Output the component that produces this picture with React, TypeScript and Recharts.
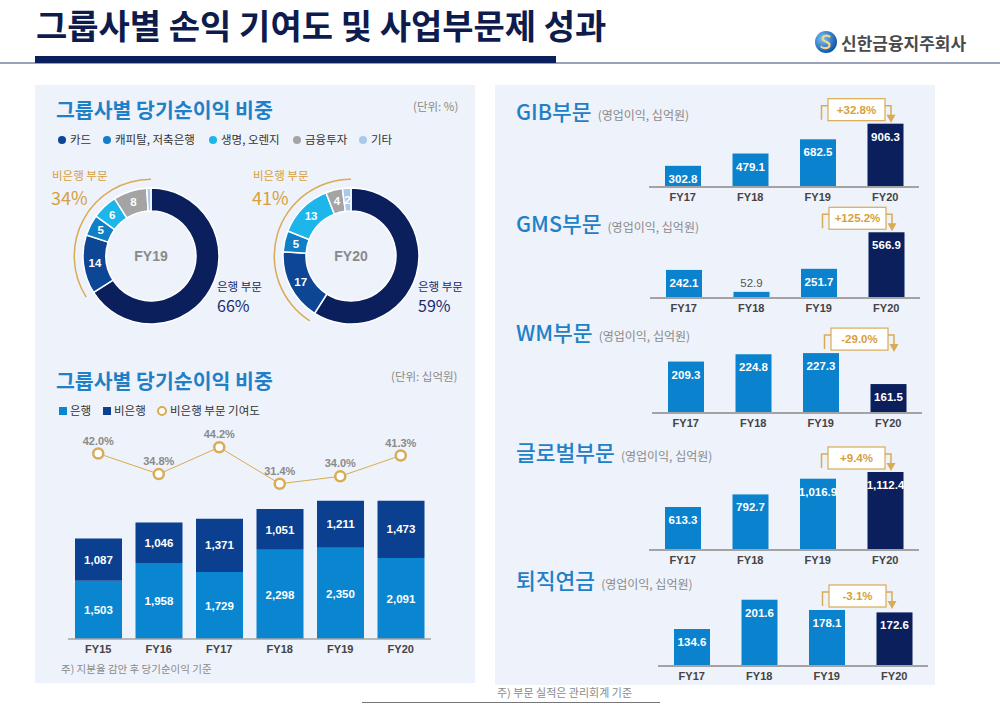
import React from 'react'
import {
	PieChart,
	Pie,
	Cell,
	ComposedChart,
	BarChart,
	Bar,
	Line,
	XAxis,
	YAxis,
	LabelList,
} from 'recharts'

const KR = '"Noto Sans CJK KR", "Noto Sans", sans-serif'
const NUM = '"Liberation Sans", Arial, sans-serif'

// 그룹사별 당기순이익 비중 (%), 은행 first then non-bank in clockwise order
const SHARE_KEYS = ['은행', '카드', '캐피탈, 저축은행', '생명, 오렌지', '금융투자', '기타']
const SHARE_FY19 = [66, 14, 5, 6, 8, 1]
const SHARE_FY20 = [59, 17, 5, 13, 4, 2]

// 그룹사별 당기순이익 (십억원)
const YEARS = ['FY15', 'FY16', 'FY17', 'FY18', 'FY19', 'FY20']
const BANK = [1503, 1958, 1729, 2298, 2350, 2091]
const NONBANK = [1087, 1046, 1371, 1051, 1211, 1473]
const NONBANK_RATIO = [42.0, 34.8, 44.2, 31.4, 34.0, 41.3]

// 사업부문 영업이익 (십억원)
const SEG_YEARS = ['FY17', 'FY18', 'FY19', 'FY20']
const GIB = [302.8, 479.1, 682.5, 906.3]
const GMS = [242.1, 52.9, 251.7, 566.9]
const WM = [209.3, 224.8, 227.3, 161.5]
const GLOBAL = [613.3, 792.7, 1016.9, 1112.4]
const PENSION = [134.6, 201.6, 178.1, 172.6]
const SEG_CHANGE = ['+32.8%', '+125.2%', '-29.0%', '+9.4%', '-3.1%']

const PANEL = '#eef2fa'
const TITLE_BLUE = '#1f80c8'
const NAVY = '#0b1f5c'
const SHARE_COLORS = [NAVY, '#0c4694', '#0f7fc8', '#1db6ea', '#a4a4a4', '#a8c8ec']
const BANK_BAR = '#0a85d0'
const NONBANK_BAR = '#0b3f8f'
const SEG_BLUE = '#0b82cd'
const GOLD = '#d9ab55'
const GOLD_TEXT = '#d6a03c'
const GREY = '#8a8a8a'

function T({ x, y, size, color, weight = 400, family = KR, center = false, children }: any) {
	return (
		<div
			style={{
				position: 'absolute',
				left: x,
				top: y,
				transform: center ? 'translate(-50%,-50%)' : 'translateY(-50%)',
				fontSize: size,
				color,
				fontWeight: weight,
				fontFamily: family,
				lineHeight: 1,
				whiteSpace: 'nowrap',
			}}
		>
			{children}
		</div>
	)
}

const RAD = Math.PI / 180

function sliceLabel(p: any) {
	const { cx, cy, midAngle, innerRadius, outerRadius, value, index } = p
	if (index === 0 || value < 2) return null
	const r = (innerRadius + outerRadius) / 2
	const x = cx + r * Math.cos(-midAngle * RAD)
	const y = cy + r * Math.sin(-midAngle * RAD)
	return (
		<text
			x={x}
			y={y}
			fill='#fff'
			textAnchor='middle'
			dominantBaseline='central'
			fontSize={11.5}
			fontWeight={700}
			fontFamily={NUM}
		>
			{value}
		</text>
	)
}

function Donut({ cx, cy, values, fy }: { cx: number; cy: number; values: number[]; fy: string }) {
	const data = SHARE_KEYS.map((k, i) => ({ name: k, value: values[i] }))
	const bank = values[0]
	const arc = [{ v: 100 - bank }, { v: bank }]
	return (
		<>
			<div style={{ position: 'absolute', left: cx - 90, top: cy - 90 }}>
				<PieChart width={180} height={180} margin={{ top: 0, right: 0, bottom: 0, left: 0 }}>
					<Pie
						data={arc}
						dataKey='v'
						cx={90}
						cy={90}
						innerRadius={76}
						outerRadius={77.5}
						startAngle={90}
						endAngle={450}
						stroke='none'
						isAnimationActive={false}
					>
						<Cell fill={GOLD} />
						<Cell fill='transparent' />
					</Pie>
					<Pie
						data={data}
						dataKey='value'
						cx={90}
						cy={90}
						innerRadius={45}
						outerRadius={68}
						startAngle={90}
						endAngle={-270}
						stroke='#fff'
						strokeWidth={1.5}
						label={sliceLabel}
						labelLine={false}
						isAnimationActive={false}
					>
						{data.map((d, i) => (
							<Cell key={d.name} fill={SHARE_COLORS[i]} />
						))}
					</Pie>
				</PieChart>
			</div>
			<T x={cx} y={cy} size={14} color={GREY} weight={700} family={NUM} center>
				{fy}
			</T>
		</>
	)
}

function SegBar(p: any) {
	const { x, y, width, height, fill, index, values, dmin, band, change, badgeDx } = p
	const v = values[index]
	const cx = x + width / 2
	const small = height < 18
	const label = v.toLocaleString('en-US', { minimumFractionDigits: 1, maximumFractionDigits: 1 })
	let badge = null
	if (index === values.length - 1) {
		const k = height / (v - dmin)
		const topPrev = y + height - (values[index - 1] - dmin) * k
		const bb = Math.min(topPrev, y) - 3
		const bt = bb - 22
		const cNow = cx + badgeDx
		const cPrev = cNow - band
		const bl = cPrev + 10
		const br = cNow - 0.5
		const ax = cNow + 5.5
		badge = (
			<g>
				<path
					d={`M${cPrev + 3.5},${bb - 1} V${bt + 7} H${bl} M${br},${bt + 7} H${ax} V${bb - 5}`}
					fill='none'
					stroke={GOLD}
					strokeWidth={1.5}
				/>
				<path d={`M${ax - 4.5},${bb - 6} L${ax + 4.5},${bb - 6} L${ax},${bb + 2} Z`} fill={GOLD} />
				<rect x={bl} y={bt} width={br - bl} height={22} fill='#fff' stroke={GOLD} strokeWidth={1.2} />
				<text
					x={(bl + br) / 2}
					y={bt + 11}
					textAnchor='middle'
					dominantBaseline='central'
					fill={GOLD_TEXT}
					fontSize={11.5}
					fontWeight={700}
					fontFamily={NUM}
				>
					{change}
				</text>
			</g>
		)
	}
	return (
		<g>
			<rect x={x} y={y} width={width} height={height} fill={fill} />
			<text
				x={cx}
				y={small ? y - 9 : y + 13}
				textAnchor='middle'
				dominantBaseline='central'
				fill={small ? '#555' : '#fff'}
				fontSize={11.5}
				fontWeight={small ? 400 : 700}
				fontFamily={NUM}
			>
				{label}
			</text>
			{badge}
		</g>
	)
}

const SEG_PLOT_W = 270

function SegmentChart({
	title,
	values,
	change,
	domain,
	plotLeft,
	baseline,
	titleY,
	badgeDx = 0,
}: {
	title: string
	values: number[]
	change: string
	domain: [number, number]
	plotLeft: number
	baseline: number
	titleY: number
	badgeDx?: number
}) {
	const data = SEG_YEARS.map((fy, i) => ({ fy, v: values[i] }))
	const band = SEG_PLOT_W / SEG_YEARS.length
	return (
		<>
			<div
				style={{
					position: 'absolute',
					left: 516,
					top: titleY,
					transform: 'translateY(-50%)',
					display: 'flex',
					alignItems: 'baseline',
					gap: 6,
					whiteSpace: 'nowrap',
					fontFamily: KR,
					lineHeight: 1,
				}}
			>
				<span style={{ fontSize: 21.5, color: TITLE_BLUE, fontWeight: 500 }}>{title}</span>
				<span style={{ fontSize: 12, color: GREY }}>(영업이익, 십억원)</span>
			</div>
			<div style={{ position: 'absolute', left: plotLeft - 5, top: baseline - 120 }}>
				<BarChart
					width={SEG_PLOT_W + 10}
					height={144}
					data={data}
					margin={{ top: 40, right: 5, bottom: 0, left: 5 }}
				>
					<XAxis
						dataKey='fy'
						height={24}
						tickLine={false}
						tickSize={4}
						axisLine={{ stroke: '#a3a3a3', strokeWidth: 2 }}
						tick={{ fontSize: 11, fontWeight: 700, fill: '#444', fontFamily: NUM }}
						interval={0}
					/>
					<YAxis hide domain={domain} />
					<Bar
						dataKey='v'
						barSize={36}
						isAnimationActive={false}
						shape={(p: any) => (
							<SegBar
								{...p}
								values={values}
								dmin={domain[0]}
								band={band}
								change={change}
								badgeDx={badgeDx}
							/>
						)}
					>
						{data.map((d, i) => (
							<Cell key={d.fy} fill={i === data.length - 1 ? NAVY : SEG_BLUE} />
						))}
					</Bar>
				</BarChart>
			</div>
		</>
	)
}

function LegendDot({ x, y, color, label }: any) {
	return (
		<>
			<div
				style={{
					position: 'absolute',
					left: x - 4,
					top: y - 4,
					width: 8,
					height: 8,
					borderRadius: 4,
					background: color,
				}}
			/>
			<T x={x + 8} y={y} size={11.5} color='#333'>
				{label}
			</T>
		</>
	)
}

export default function App() {
	const barData = YEARS.map((fy, i) => ({
		fy,
		bank: BANK[i],
		nonbank: NONBANK[i],
		ratio: NONBANK_RATIO[i],
	}))
	const comma = (v: any) => Number(v).toLocaleString('en-US')

	return (
		<div
			style={{
				position: 'absolute',
				left: 0,
				top: 0,
				width: 1000,
				height: 705,
				background: '#fff',
				overflow: 'hidden',
				fontFamily: KR,
			}}
		>
			{/* Header */}
			<T x={36} y={25} size={34} color='#0d1b4d' weight={700}>
				그룹사별 손익 기여도 및 사업부문제 성과
			</T>
			<div style={{ position: 'absolute', left: 0, top: 62, width: 1000, height: 1.5, background: '#9aa0b8' }} />
			<div style={{ position: 'absolute', left: 35, top: 56, width: 521, height: 7, background: '#0b1f5c' }} />
			<svg style={{ position: 'absolute', left: 814, top: 30 }} width={24} height={24}>
				<defs>
					<radialGradient id='logo-g' cx='35%' cy='35%' r='70%'>
						<stop offset='0%' stopColor='#7cc4f2' />
						<stop offset='100%' stopColor='#0b4fa8' />
					</radialGradient>
				</defs>
				<circle cx={12} cy={12} r={11} fill='url(#logo-g)' />
				<path
					d='M15.5,6.5 C12,4.5 7.5,6.5 9,9.5 C10.5,12.5 16,11.5 15.5,15.5 C15,18.5 10,19 7.5,17'
					fill='none'
					stroke='#f3d68a'
					strokeWidth={2.2}
					strokeLinecap='round'
				/>
			</svg>
			<T x={841} y={42} size={17} color='#4a4a4a' weight={700}>
				신한금융지주회사
			</T>

			{/* Panels */}
			<div style={{ position: 'absolute', left: 35, top: 85, width: 440, height: 598, background: PANEL }} />
			<div style={{ position: 'absolute', left: 495, top: 85, width: 440, height: 600, background: PANEL }} />

			{/* Donut section */}
			<T x={56} y={109} size={20.5} color={TITLE_BLUE} weight={600}>
				그룹사별 당기순이익 비중
			</T>
			<T x={413} y={107} size={11.5} color={GREY}>
				(단위: %)
			</T>
			<LegendDot x={62} y={140} color={SHARE_COLORS[1]} label={SHARE_KEYS[1]} />
			<LegendDot x={107} y={140} color={SHARE_COLORS[2]} label={SHARE_KEYS[2]} />
			<LegendDot x={213} y={140} color={SHARE_COLORS[3]} label={SHARE_KEYS[3]} />
			<LegendDot x={297} y={140} color={SHARE_COLORS[4]} label={SHARE_KEYS[4]} />
			<LegendDot x={363} y={140} color={SHARE_COLORS[5]} label={SHARE_KEYS[5]} />

			<Donut cx={151} cy={256} values={SHARE_FY19} fy='FY19' />
			<Donut cx={351} cy={256} values={SHARE_FY20} fy='FY20' />

			<T x={52} y={176} size={11.5} color={GOLD_TEXT}>
				비은행 부문
			</T>
			<T x={51} y={197} size={18} color={GOLD_TEXT}>
				{100 - SHARE_FY19[0]}%
			</T>
			<T x={217} y={287} size={11.5} color='#1a2a6c'>
				은행 부문
			</T>
			<T x={217} y={305} size={16} color='#1a2a6c'>
				{SHARE_FY19[0]}%
			</T>
			<T x={253} y={176} size={11.5} color={GOLD_TEXT}>
				비은행 부문
			</T>
			<T x={252} y={197} size={18} color={GOLD_TEXT}>
				{100 - SHARE_FY20[0]}%
			</T>
			<T x={418} y={287} size={11.5} color='#1a2a6c'>
				은행 부문
			</T>
			<T x={418} y={305} size={16} color='#1a2a6c'>
				{SHARE_FY20[0]}%
			</T>

			{/* Stacked bar section */}
			<T x={56} y={380} size={20.5} color={TITLE_BLUE} weight={600}>
				그룹사별 당기순이익 비중
			</T>
			<T x={391} y={377} size={11.5} color={GREY}>
				(단위: 십억원)
			</T>
			<div style={{ position: 'absolute', left: 59, top: 407, width: 8, height: 8, background: BANK_BAR }} />
			<T x={70} y={411} size={11.5} color='#333'>
				은행
			</T>
			<div style={{ position: 'absolute', left: 103, top: 407, width: 8, height: 8, background: NONBANK_BAR }} />
			<T x={114} y={411} size={11.5} color='#333'>
				비은행
			</T>
			<div
				style={{
					position: 'absolute',
					left: 157,
					top: 406,
					width: 6,
					height: 6,
					borderRadius: 5,
					border: `2px solid ${GOLD}`,
					background: '#fff',
				}}
			/>
			<T x={170} y={411} size={11.5} color='#333'>
				비은행 부문 기여도
			</T>

			<div style={{ position: 'absolute', left: 35, top: 420 }}>
				<ComposedChart
					width={440}
					height={245}
					data={barData}
					margin={{ top: 10.7, right: 44, left: 33, bottom: 0 }}
				>
					<XAxis
						dataKey='fy'
						height={26}
						tickLine={false}
						tickSize={4}
						axisLine={{ stroke: '#a3a3a3', strokeWidth: 1.5 }}
						tick={{ fontSize: 11, fontWeight: 700, fill: '#444', fontFamily: NUM }}
						interval={0}
					/>
					<YAxis yAxisId='amt' hide domain={[0, 5370]} />
					<YAxis yAxisId='pct' hide orientation='right' domain={[-23, 50]} />
					<Bar yAxisId='amt' dataKey='bank' stackId='s' fill={BANK_BAR} barSize={47} isAnimationActive={false}>
						<LabelList
							dataKey='bank'
							position='center'
							fill='#fff'
							fontSize={11.5}
							fontWeight={700}
							fontFamily={NUM}
							formatter={comma}
						/>
					</Bar>
					<Bar yAxisId='amt' dataKey='nonbank' stackId='s' fill={NONBANK_BAR} barSize={47} isAnimationActive={false}>
						<LabelList
							dataKey='nonbank'
							position='center'
							fill='#fff'
							fontSize={11.5}
							fontWeight={700}
							fontFamily={NUM}
							formatter={comma}
						/>
					</Bar>
					<Line
						yAxisId='pct'
						type='linear'
						dataKey='ratio'
						stroke={GOLD}
						strokeWidth={1}
						dot={{ r: 5, stroke: GOLD, strokeWidth: 2.5, fill: '#fff' }}
						isAnimationActive={false}
					>
						<LabelList
							dataKey='ratio'
							position='top'
							offset={9}
							fill={GREY}
							fontSize={11}
							fontWeight={700}
							fontFamily={NUM}
							formatter={(v: any) => `${Number(v).toFixed(1)}%`}
						/>
					</Line>
				</ComposedChart>
			</div>
			<T x={61} y={669} size={10.5} color={GREY}>
				주) 지분율 감안 후 당기순이익 기준
			</T>

			{/* Segment charts */}
			<SegmentChart title='GIB부문' values={GIB} change={SEG_CHANGE[0]} domain={[0, 1145]} plotLeft={649} baseline={187.3} titleY={111} />
			<SegmentChart title='GMS부문' values={GMS} change={SEG_CHANGE[1]} domain={[0, 690]} plotLeft={650} baseline={298.3} titleY={223} />
			<SegmentChart title='WM부문' values={WM} change={SEG_CHANGE[2]} domain={[100, 270]} plotLeft={652} baseline={413.3} titleY={332} />
			<SegmentChart title='글로벌부문' values={GLOBAL} change={SEG_CHANGE[3]} domain={[0, 1141]} plotLeft={649} baseline={550} titleY={452} />
			<SegmentChart title='퇴직연금' values={PENSION} change={SEG_CHANGE[4]} domain={[50, 233]} plotLeft={658} baseline={665.7} titleY={580} badgeDx={-8} />

			{/* Footnote */}
			<div style={{ position: 'absolute', left: 362, top: 702, width: 298, height: 1, background: '#777' }} />
			<T x={497} y={692} size={11} color={GREY}>
				주) 부문 실적은 관리회계 기준
			</T>
		</div>
	)
}
